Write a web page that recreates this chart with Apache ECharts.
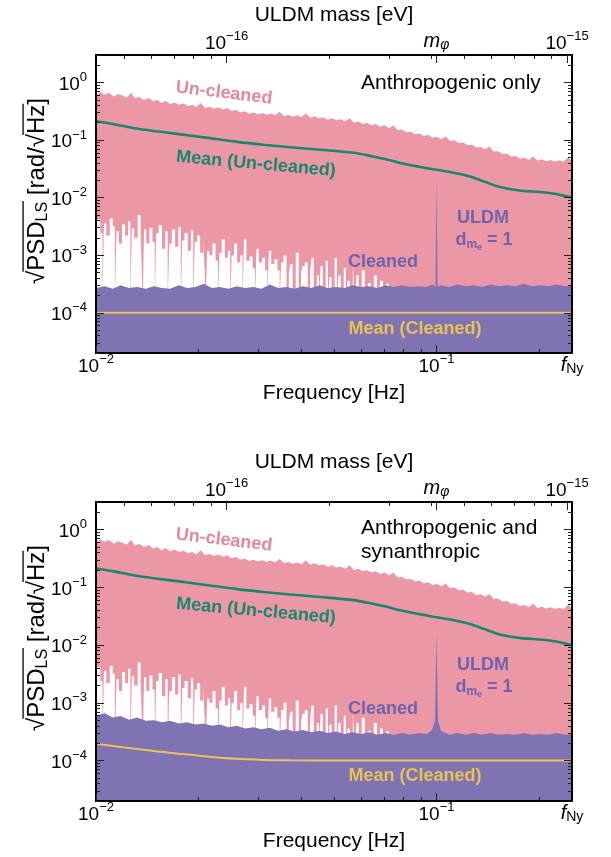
<!DOCTYPE html>
<html><head><meta charset="utf-8">
<script src="https://cdn.jsdelivr.net/npm/echarts@6/dist/echarts.min.js"></script>
<style>html,body{margin:0;padding:0;background:#fff}#c{width:611px;height:857px}</style>
</head><body><div id="c"></div>
<script>
// ---------------- DATA ----------------
// Un-cleaned PSD: upper envelope [frequency Hz, sqrt(PSD) rad/sqrt(Hz)]
const upperUncleaned = [
 [0.0100,0.60],[0.0103,0.68],[0.0106,0.61],[0.0109,0.66],[0.0113,0.57],[0.0116,0.63],[0.0119,0.60],[0.0123,0.55],
 [0.0127,0.66],[0.0130,0.53],[0.0134,0.56],[0.0138,0.50],[0.0143,0.54],[0.0147,0.47],[0.0151,0.50],[0.0156,0.44],
 [0.0160,0.48],[0.0165,0.42],[0.0170,0.45],[0.0175,0.41],[0.0181,0.43],[0.0186,0.39],[0.0192,0.41],[0.0197,0.37],
 [0.0203,0.44],[0.0209,0.36],[0.0216,0.38],[0.0222,0.35],[0.0229,0.37],[0.0236,0.34],[0.0243,0.36],[0.0250,0.32],
 [0.0258,0.335],[0.0265,0.30],[0.0273,0.315],[0.0282,0.285],[0.0290,0.30],[0.0299,0.28],[0.0308,0.295],[0.0317,0.275],
 [0.0326,0.29],[0.0336,0.27],[0.0346,0.31],[0.0357,0.26],[0.0367,0.275],[0.0378,0.255],[0.0390,0.27],[0.0401,0.25],
 [0.0413,0.29],[0.0426,0.245],[0.0439,0.26],[0.0452,0.24],[0.0465,0.25],[0.0479,0.225],[0.0494,0.24],[0.0508,0.22],
 [0.0524,0.23],[0.0539,0.21],[0.0556,0.24],[0.0572,0.20],[0.0589,0.21],[0.0607,0.19],[0.0625,0.20],[0.0644,0.18],
 [0.0663,0.19],[0.0683,0.17],[0.0704,0.18],[0.0725,0.16],[0.0747,0.18],[0.0769,0.148],[0.0792,0.152],[0.0816,0.136],
 [0.0840,0.14],[0.0865,0.126],[0.0891,0.13],[0.0918,0.118],[0.0946,0.122],[0.0974,0.11],[0.1003,0.114],[0.1033,0.103],
 [0.1064,0.115],[0.1096,0.097],[0.1129,0.099],[0.1163,0.089],[0.1198,0.091],[0.1234,0.081],[0.1271,0.083],[0.1309,0.074],
 [0.1348,0.076],[0.1388,0.069],[0.1430,0.077],[0.1473,0.063],[0.1517,0.064],[0.1563,0.057],[0.1610,0.058],[0.1658,0.052],
 [0.1708,0.053],[0.1759,0.0475],[0.1812,0.0495],[0.1866,0.0455],[0.1922,0.052],[0.1980,0.044],[0.2039,0.046],[0.2100,0.043],
 [0.2163,0.045],[0.2228,0.042],[0.2295,0.0445],[0.2364,0.042],[0.2435,0.050],[0.2500,0.043]
];
// Un-cleaned PSD: lower edge, one value per narrow frequency column (deep dips fall below the cleaned band)
const lowerUncleaned = [
 [0.01000,3.0e-3],[0.01020,4.2e-3],[0.01040,2.4e-3],[0.01050,1.5e-4],[0.01060,3.6e-3],[0.01085,2.2e-3],[0.01110,4.4e-3],[0.01130,3.2e-3],
 [0.01142,1.5e-4],[0.01155,2.6e-3],[0.01180,1.6e-3],[0.01205,3.4e-3],[0.01230,2.2e-3],[0.01255,3.9e-3],[0.01268,1.5e-4],[0.01280,2.9e-3],
 [0.01310,2.0e-3],[0.01340,5.0e-3],[0.01365,2.3e-3],[0.01378,1.5e-4],[0.01390,2.8e-3],[0.01420,1.6e-3],[0.01450,3.0e-3],[0.01480,1.7e-3],
 [0.01495,1.5e-4],[0.01510,2.4e-3],[0.01545,3.3e-3],[0.01580,1.3e-3],[0.01615,2.6e-3],[0.01632,1.5e-4],[0.01650,1.6e-3],[0.01690,2.8e-3],
 [0.01725,1.4e-3],[0.01765,3.1e-3],[0.01783,1.5e-4],[0.01800,1.8e-3],[0.01840,2.4e-3],[0.01880,1.2e-3],[0.01920,2.7e-3],[0.01940,1.5e-4],
 [0.01960,1.7e-3],[0.02000,2.2e-3],[0.02045,1.1e-3],[0.02090,1.9e-3],[0.02110,1.5e-4],[0.02130,1.2e-3],[0.02175,1.0e-3],[0.02220,1.6e-3],
 [0.02270,8e-4],[0.02292,1.5e-4],[0.02315,1.1e-3],[0.02365,1.9e-3],[0.02415,9e-4],[0.02465,1.2e-3],[0.02490,1.5e-4],[0.02515,1.0e-3],
 [0.02570,1.6e-3],[0.02625,7.5e-4],[0.02680,1.0e-3],[0.02707,1.5e-4],[0.02735,1.9e-3],[0.02795,8e-4],[0.02855,9.5e-4],[0.02915,6e-4],
 [0.02945,1.5e-4],[0.02975,1.3e-3],[0.03040,7.5e-4],[0.03105,9e-4],[0.03170,5.5e-4],[0.03202,1.5e-4],[0.03235,1.2e-3],[0.03305,7e-4],
 [0.03375,8.5e-4],[0.03445,5.5e-4],[0.03480,1.5e-4],[0.03515,7.5e-4],[0.03590,1.0e-3],[0.03665,1.5e-4],[0.03702,5e-4],[0.03740,7e-4],
 [0.03820,1.5e-4],[0.03900,1.1e-3],[0.03980,1.5e-4],[0.04020,5e-4],[0.04060,6.5e-4],[0.04145,7.5e-4],[0.04230,1.5e-4],[0.04273,4.5e-4],
 [0.04315,9e-4],[0.04405,1.5e-4],[0.04495,4.5e-4],[0.04540,1.5e-4],[0.04585,6.5e-4],[0.04680,1.5e-4],[0.04775,8e-4],[0.04823,1.5e-4],
 [0.04870,4.2e-4],[0.04970,1.5e-4],[0.05075,9e-4],[0.05125,1.5e-4],[0.05180,4.5e-4],[0.05285,1.5e-4],[0.05395,6e-4],[0.05450,1.5e-4],
 [0.05505,3.6e-4],[0.05620,1.5e-4],[0.05735,7e-4],[0.05790,1.5e-4],[0.05850,4.5e-4],[0.05970,1.5e-4],[0.06095,5.5e-4],[0.06220,1.5e-4],
 [0.06350,3.3e-4],[0.06480,1.5e-4],[0.06615,4.5e-4],[0.06750,1.5e-4],[0.06890,3.6e-4],[0.07030,1.5e-4],[0.07180,3.2e-4],[0.07330,1.5e-4],
 [0.07480,2.8e-4],[0.07640,1.5e-4],[0.07800,1.5e-4]
];
// Mean of un-cleaned PSD
const meanUncleaned = [
 [0.0100,0.212],[0.0115,0.185],[0.0130,0.160],[0.0150,0.142],[0.0173,0.128],[0.0210,0.110],[0.0260,0.093],[0.0310,0.083],
 [0.0372,0.075],[0.0456,0.068],[0.0570,0.060],[0.0640,0.053],[0.0716,0.046],[0.0781,0.040],[0.0898,0.034],[0.0978,0.031],
 [0.1124,0.027],[0.1262,0.023],[0.1380,0.019],[0.1509,0.0157],[0.1620,0.0142],[0.1770,0.0132],[0.2057,0.0124],[0.2220,0.0117],
 [0.2500,0.0100]
];
// Cleaned PSD, anthropogenic only (includes ULDM line at 0.1 Hz)
const cleanedA = [
 [0.0100,2.7e-4],[0.0106,2.9e-4],[0.0112,2.6e-4],[0.0118,3.0e-4],[0.0125,2.7e-4],[0.0132,2.8e-4],[0.0140,2.6e-4],[0.0148,2.9e-4],
 [0.0156,2.7e-4],[0.0165,2.6e-4],[0.0175,3.0e-4],[0.0185,2.7e-4],[0.0196,2.8e-4],[0.0207,3.2e-4],[0.0219,2.7e-4],[0.0231,2.8e-4],
 [0.0245,2.6e-4],[0.0259,2.9e-4],[0.0274,2.7e-4],[0.0290,2.8e-4],[0.0306,2.6e-4],[0.0324,3.1e-4],[0.0343,2.7e-4],[0.0362,2.8e-4],
 [0.0383,2.6e-4],[0.0405,2.9e-4],[0.0429,2.7e-4],[0.0453,3.0e-4],[0.0479,2.7e-4],[0.0507,2.8e-4],[0.0536,2.7e-4],[0.0567,3.0e-4],
 [0.0600,2.8e-4],[0.0634,2.9e-4],[0.0671,2.7e-4],[0.0709,3.0e-4],[0.0750,2.8e-4],[0.0793,3.0e-4],[0.0839,2.8e-4],[0.0887,2.9e-4],
 [0.0938,2.8e-4],[0.0970,3.1e-4],[0.0993,2.9e-4],[0.1000,2.2e-2],[0.1007,2.9e-4],[0.1030,3.0e-4],[0.1090,2.8e-4],[0.1153,3.1e-4],
 [0.1219,2.9e-4],[0.1289,3.0e-4],[0.1363,2.8e-4],[0.1441,3.1e-4],[0.1524,2.9e-4],[0.1612,3.0e-4],[0.1705,2.9e-4],[0.1803,3.2e-4],
 [0.1906,2.9e-4],[0.2016,3.0e-4],[0.2132,2.9e-4],[0.2254,3.1e-4],[0.2384,2.9e-4],[0.2500,3.0e-4]
];
// Cleaned PSD, anthropogenic and synanthropic
const cleanedB = [
 [0.0100,6.0e-4],[0.0106,6.6e-4],[0.0112,5.6e-4],[0.0118,5.9e-4],[0.0125,5.1e-4],[0.0132,5.6e-4],[0.0140,4.9e-4],[0.0148,5.0e-4],
 [0.0156,4.6e-4],[0.0165,4.9e-4],[0.0175,4.4e-4],[0.0185,4.6e-4],[0.0196,4.2e-4],[0.0207,4.4e-4],[0.0219,4.0e-4],[0.0231,4.2e-4],
 [0.0245,3.8e-4],[0.0259,4.0e-4],[0.0274,3.6e-4],[0.0290,3.8e-4],[0.0306,3.5e-4],[0.0324,3.7e-4],[0.0343,3.3e-4],[0.0362,3.5e-4],
 [0.0383,3.2e-4],[0.0405,3.4e-4],[0.0429,3.1e-4],[0.0453,3.3e-4],[0.0479,3.0e-4],[0.0507,3.2e-4],[0.0536,2.9e-4],[0.0567,3.1e-4],
 [0.0600,2.9e-4],[0.0634,3.1e-4],[0.0671,2.8e-4],[0.0709,3.0e-4],[0.0750,2.8e-4],[0.0793,3.0e-4],[0.0839,2.8e-4],[0.0887,3.0e-4],
 [0.0938,2.9e-4],[0.0970,3.4e-4],[0.0990,5.0e-4],[0.1000,1.65e-2],[0.1010,5.0e-4],[0.1030,3.3e-4],[0.1090,2.8e-4],[0.1153,3.0e-4],
 [0.1219,2.8e-4],[0.1289,3.0e-4],[0.1363,2.8e-4],[0.1441,3.0e-4],[0.1524,2.8e-4],[0.1612,2.9e-4],[0.1705,2.8e-4],[0.1803,3.0e-4],
 [0.1906,2.8e-4],[0.2016,2.9e-4],[0.2132,2.8e-4],[0.2254,3.0e-4],[0.2384,2.8e-4],[0.2500,2.9e-4]
];
const meanCleanedA = [[0.0100,1.0e-4],[0.2500,1.0e-4]];
const meanCleanedB = [[0.0100,1.95e-4],[0.0120,1.7e-4],[0.0150,1.45e-4],[0.0180,1.3e-4],[0.0236,1.11e-4],[0.0300,1.04e-4],[0.0372,1.01e-4],[0.0500,1.0e-4],[0.2500,1.0e-4]];

// ticks
const freqMin = 0.01, freqNyquist = 0.25;
const freqMajorTicks = [0.01, 0.1];
const freqLabelTicks = [0.01, 0.1, 0.25];
const freqMinorTicks = [0.02,0.03,0.04,0.05,0.06,0.07,0.08,0.09,0.2];
const massMajorTicks = [1e-16, 1e-15];
const massMinorTicks = [5e-17,6e-17,7e-17,8e-17,9e-17,2e-16,3e-16,4e-16,5e-16,6e-16,7e-16,8e-16,9e-16];
const uldmFreq = 0.1;
const yMin = 2e-5, yMax = 3;
const yMajorTicks = [1e-4,1e-3,1e-2,1e-1,1];
const yMinorTicks = [2e-5,3e-5,4e-5,5e-5,6e-5,7e-5,8e-5,9e-5,2e-4,3e-4,4e-4,5e-4,6e-4,7e-4,8e-4,9e-4,
  2e-3,3e-3,4e-3,5e-3,6e-3,7e-3,8e-3,9e-3,2e-2,3e-2,4e-2,5e-2,6e-2,7e-2,8e-2,9e-2,0.2,0.3,0.4,0.5,0.6,0.7,0.8,0.9,2,3];
const panelTitles = ['Anthropogenic only', 'Anthropogenic and\nsynanthropic'];
const H_EV_S = 4.135667696e-15;

// ---------------- STYLE ----------------
const FONT = '"Liberation Sans", Arial, sans-serif';
const COL = {pink:'#EC97A5', pinkText:'#E3899B', purple:'#8073B3', purpleText:'#6E63AD', green:'#17876E', yellow:'#EBC35B', yellowText:'#E8C254'};
const massToFreq = m => m / H_EV_S;

const tickRich = {
  b: {fontSize:19, lineHeight:19, padding:[4,0,0,0], fontFamily:FONT, color:'#000'},
  sup: {fontSize:13, lineHeight:13, padding:[0,0,10,0], fontFamily:FONT, color:'#000'},
  it: {fontSize:20, lineHeight:20, padding:[2,0,1,0], fontStyle:'italic', fontFamily:FONT, color:'#000'},
  sub: {fontSize:14, lineHeight:14, padding:[9,0,0,0], fontFamily:FONT, color:'#000'},
  subi: {fontSize:14, lineHeight:14, padding:[9,0,0,0], fontStyle:'italic', fontFamily:FONT, color:'#000'}
};
function pow10(v){ const e = Math.round(Math.log10(v)); return '{b|10}{sup|' + (e<0 ? '\u2212'+(-e) : e) + '}'; }
function fmtFreq(v){ return v > 0.2 ? '{it|f}{sub|Ny}' : pow10(v); }
function fmtMass(v){ return Math.abs(v-uldmFreq) < 1e-3 ? '{it|m}{subi|\u03c6}' : pow10(v*H_EV_S); }

const GRIDS = [{left:96, top:55, width:476, height:298},{left:96, top:502, width:476, height:299}];
const tickLine = {color:'#222', width:1};
const frameLine = {color:'#000', width:2};

const xAxes = [], yAxes = [], series = [], graphics = [];
function baseX(g){ return {type:'log', logBase:10, gridIndex:g, min:freqMin, max:freqNyquist, z:10, splitLine:{show:false}, axisLine:{show:false, onZero:false}, axisTick:{show:false}, axisLabel:{show:false}}; }
function baseY(g){ return {type:'log', logBase:10, gridIndex:g, min:yMin, max:yMax, z:10, splitLine:{show:false}, axisLine:{show:false, onZero:false}, axisTick:{show:false}, axisLabel:{show:false}}; }

GRIDS.forEach((gr, g) => {
  xAxes.push(Object.assign(baseX(g), {position:'bottom', axisLine:{show:true, onZero:false, lineStyle:frameLine},
    axisTick:{show:true, inside:true, length:8, lineStyle:tickLine, customValues:freqMajorTicks},
    axisLabel:{show:true, customValues:freqLabelTicks, formatter:fmtFreq, rich:tickRich, margin:2},
    name:'Frequency [Hz]', nameLocation:'middle', nameGap:30, nameTextStyle:{fontSize:21, color:'#000', fontFamily:FONT}}));
  xAxes.push(Object.assign(baseX(g), {position:'bottom', axisTick:{show:true, inside:true, length:4, lineStyle:tickLine, customValues:freqMinorTicks}}));
  xAxes.push(Object.assign(baseX(g), {position:'top', axisLine:{show:true, onZero:false, lineStyle:frameLine},
    axisTick:{show:true, inside:true, length:8, lineStyle:tickLine, customValues:massMajorTicks.map(massToFreq).concat([uldmFreq])},
    axisLabel:{show:true, customValues:massMajorTicks.map(massToFreq).concat([uldmFreq]), formatter:fmtMass, rich:tickRich, margin:4},
    name:'ULDM mass [eV]', nameLocation:'middle', nameGap:29, nameTextStyle:{fontSize:21, color:'#000', fontFamily:FONT}}));
  xAxes.push(Object.assign(baseX(g), {position:'top', axisTick:{show:true, inside:true, length:4, lineStyle:tickLine, customValues:massMinorTicks.map(massToFreq)}}));
  yAxes.push(Object.assign(baseY(g), {position:'left', axisLine:{show:true, onZero:false, lineStyle:frameLine},
    axisTick:{show:true, inside:true, length:8, lineStyle:tickLine, customValues:yMajorTicks},
    axisLabel:{show:true, customValues:yMajorTicks, formatter:pow10, rich:tickRich, margin:9}}));
  yAxes.push(Object.assign(baseY(g), {position:'left', axisTick:{show:true, inside:true, length:4, lineStyle:tickLine, customValues:yMinorTicks}}));
  yAxes.push(Object.assign(baseY(g), {position:'right', axisLine:{show:true, onZero:false, lineStyle:frameLine},
    axisTick:{show:true, inside:true, length:8, lineStyle:tickLine, customValues:yMajorTicks}}));
  yAxes.push(Object.assign(baseY(g), {position:'right', axisTick:{show:true, inside:true, length:4, lineStyle:tickLine, customValues:yMinorTicks}}));

  const area = (data, color, z, step) => ({type:'line', xAxisIndex:g*4, yAxisIndex:g*4, data, symbol:'none', silent:true, step: step || false,
    lineStyle:{width:0, color}, areaStyle:{color, opacity:1, origin:'start'}, z, animation:false});
  const line = (data, color, width, z) => ({type:'line', xAxisIndex:g*4, yAxisIndex:g*4, data, symbol:'none', silent:true,
    smooth:0.3, lineStyle:{width, color}, z, animation:false});
  series.push(area(upperUncleaned, COL.pink, 2));
  series.push(area(lowerUncleaned, '#ffffff', 3, 'middle'));
  series.push(area(g === 0 ? cleanedA : cleanedB, COL.purple, 4));
  series.push(line(meanUncleaned, COL.green, 2.6, 5));
  series.push(line(g === 0 ? meanCleanedA : meanCleanedB, COL.yellow, 2, 5));

  const T = gr.top;
  const txt = (x, y, text, fill, el) => graphics.push(Object.assign({type:'text', x, y, z:100, silent:true,
    style:{text, fill, font:'bold 18px ' + FONT, textAlign:'center', textVerticalAlign:'middle'}}, el||{}));
  txt(224, T+38, 'Un-cleaned', COL.pinkText, {rotation:-0.12});
  txt(256, T+109, 'Mean (Un-cleaned)', COL.green, {rotation:-0.09});
  txt(383, T+207, 'Cleaned', COL.purpleText);
  txt(483, T+163, 'ULDM', COL.purpleText);
  graphics.push({type:'text', x:484, y:T+185, z:100, silent:true, style:{
    text:'{d|d}{s1|m}{s2|e}{d| = 1}', textAlign:'center', textVerticalAlign:'middle',
    rich:{d:{font:'bold 18px '+FONT, fill:COL.purpleText, lineHeight:20},
          s1:{font:'bold 12px '+FONT, fill:COL.purpleText, lineHeight:12, padding:[10,0,0,0]},
          s2:{font:'bold 9px '+FONT, fill:COL.purpleText, lineHeight:9, padding:[16,0,0,0]}}}});
  txt(415, T+274, 'Mean (Cleaned)', COL.yellowText);
  graphics.push({type:'text', x:361, y: g===0 ? T+28 : T+38, z:100, silent:true, style:{
    text:panelTitles[g], fill:'#000', font:'21px '+FONT, textAlign:'left', textVerticalAlign:'middle', lineHeight:24}});
  graphics.push(yLabel(37, T + 136));
});

function yLabel(cx, cy){
  const fs = 24, fsSub = 16;
  const ctx = document.createElement('canvas').getContext('2d');
  const meas = (s, size) => { ctx.font = size + 'px ' + FONT; return ctx.measureText(s).width; };
  const parts = [
    {t:'\u221a', s:fs, dy:0}, {t:'PSD', s:fs, dy:0}, {t:'LS', s:fsSub, dy:6},
    {t:' [rad/', s:fs, dy:0}, {t:'\u221a', s:fs, dy:0}, {t:'Hz', s:fs, dy:0}, {t:']', s:fs, dy:0}
  ];
  let x = 0; parts.forEach(p => { p.w = meas(p.t, p.s); p.x = x; x += p.w; });
  const off = -x/2;
  const children = parts.map(p => ({type:'text', x: off + p.x, y: p.dy,
    style:{text:p.t, font: p.s + 'px ' + FONT, fill:'#000', textAlign:'left', textVerticalAlign:'middle'}}));
  const ov = -0.58*fs;
  children.push({type:'line', shape:{x1: off+parts[1].x - 1, y1: ov, x2: off+parts[2].x+parts[2].w + 1, y2: ov}, style:{stroke:'#000', lineWidth:1.3}});
  children.push({type:'line', shape:{x1: off+parts[5].x - 1, y1: ov, x2: off+parts[5].x+parts[5].w + 1, y2: ov}, style:{stroke:'#000', lineWidth:1.3}});
  return {type:'group', x:cx, y:cy, rotation:Math.PI/2, z:100, silent:true, children};
}

const chart = echarts.init(document.getElementById('c'), null, {renderer:'canvas'});
chart.setOption({animation:false, backgroundColor:'#fff', grid:GRIDS, xAxis:xAxes, yAxis:yAxes, series, graphic:graphics});
</script></body></html>
